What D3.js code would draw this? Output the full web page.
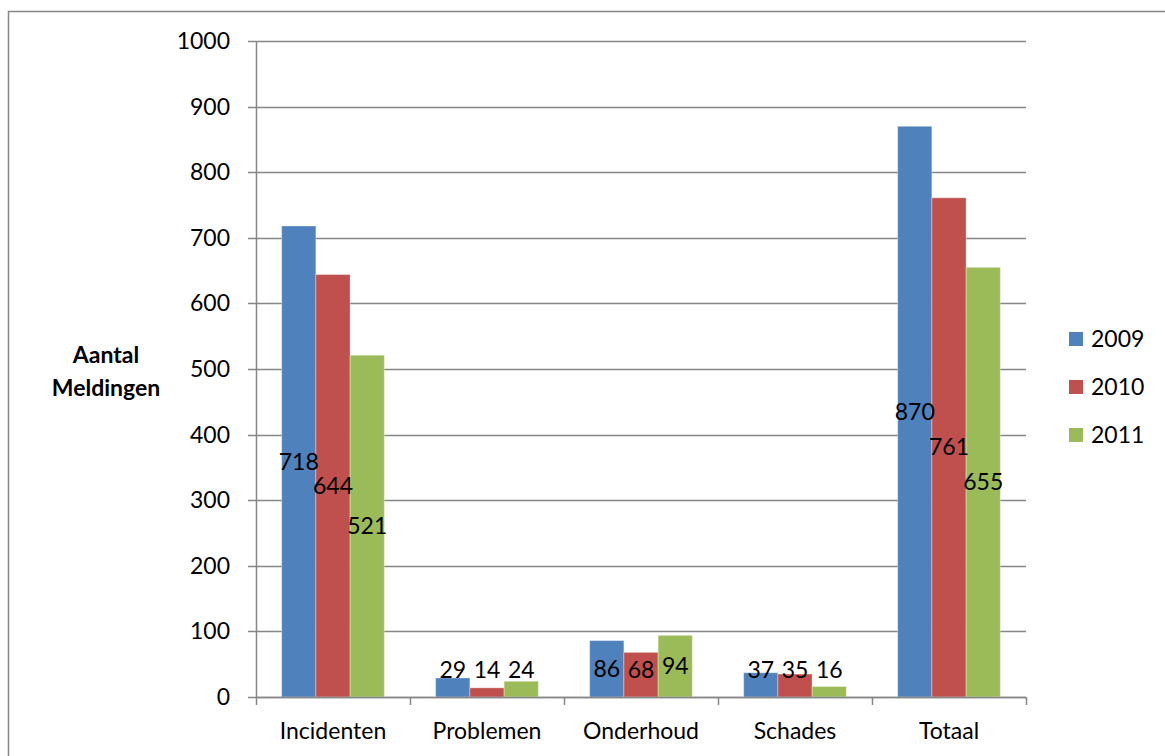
<!DOCTYPE html>
<html>
<head>
<meta charset="utf-8">
<script src="https://cdn.jsdelivr.net/npm/d3@7"></script>
<style>
	body { margin: 0; background: #fff; }
	text { font-family: Lato, "Open Sans", sans-serif; fill: #000; }
</style>
</head>
<body>
<div id="chart"></div>
<script>
var categories = ["Incidenten", "Problemen", "Onderhoud", "Schades", "Totaal"];
var years = ["2009", "2010", "2011"];
var values2009 = [718, 29, 86, 37, 870];
var values2010 = [644, 14, 68, 35, 761];
var values2011 = [521, 24, 94, 16, 655];
var yTicks = [0, 100, 200, 300, 400, 500, 600, 700, 800, 900, 1000];

var colors = ["#4f81bd", "#c0504d", "#9bbb59"];
var series = [values2009, values2010, values2011];

var W = 1165, H = 756, fs = 23;
var plotL = 256, plotR = 1026, plotT = 41, plotB = 697;

var svg = d3.select("#chart")
	.append("svg")
	.attr("width", W)
	.attr("height", H)
	.attr("display", "block");

//	Outer chart border
svg.append("rect")
	.attr("x", 8.5)
	.attr("y", 11.5)
	.attr("width", W + 20)
	.attr("height", H + 20)
	.attr("fill", "none")
	.attr("stroke", "#868686")
	.attr("stroke-width", 1.5);

var x = d3.scaleBand()
	.domain(categories)
	.range([plotL, plotR])
	.paddingInner(0)
	.paddingOuter(0);

var y = d3.scaleLinear()
	.domain([0, 1000])
	.range([plotB, plotT]);

//	Inner band for the three years, 75% of a bar width gap on each side
var xs = d3.scaleBand()
	.domain(years)
	.range([0, x.bandwidth()])
	.paddingInner(0)
	.paddingOuter(0.75);

//	Gridlines + left ticks
svg.append("g")
	.selectAll("line")
	.data(yTicks)
	.join("line")
	.attr("x1", plotL - 8)
	.attr("x2", plotR)
	.attr("y1", function(d) { return Math.round(y(d)) + 0.5; })
	.attr("y2", function(d) { return Math.round(y(d)) + 0.5; })
	.attr("stroke", "#868686")
	.attr("stroke-width", 1.5);

svg.append("g")
	.selectAll("text")
	.data(yTicks)
	.join("text")
	.attr("x", 230)
	.attr("y", function(d) { return y(d); })
	.attr("dy", "0.35em")
	.attr("text-anchor", "end")
	.attr("font-size", fs)
	.text(function(d) { return d; });

//	Bars
years.forEach(function(yr, i) {
	var g = svg.append("g");
	g.selectAll("rect")
		.data(series[i])
		.join("rect")
		.attr("x", function(d, j) { return x(categories[j]) + xs(yr); })
		.attr("y", function(d) { return y(d); })
		.attr("width", xs.bandwidth())
		.attr("height", function(d) { return y(0) - y(d); })
		.attr("fill", colors[i])
		.attr("stroke", "#fff")
		.attr("stroke-opacity", 0.35)
		.attr("stroke-width", 1);
});

//	Value labels (on top of all bars)
years.forEach(function(yr, i) {
	svg.append("g")
		.selectAll("text")
		.data(series[i])
		.join("text")
		.attr("x", function(d, j) { return x(categories[j]) + xs(yr) + xs.bandwidth() / 2; })
		.attr("y", function(d) { return Math.min(y(d / 2), y(0) - 27); })
		.attr("dy", "0.35em")
		.attr("text-anchor", "middle")
		.attr("font-size", fs)
		.text(function(d) { return d; });
});

//	Axes lines
svg.append("line")
	.attr("x1", plotL + 0.5)
	.attr("x2", plotL + 0.5)
	.attr("y1", plotT)
	.attr("y2", plotB)
	.attr("stroke", "#868686")
	.attr("stroke-width", 1.5);

svg.append("line")
	.attr("x1", plotL)
	.attr("x2", plotR)
	.attr("y1", plotB + 0.5)
	.attr("y2", plotB + 0.5)
	.attr("stroke", "#868686")
	.attr("stroke-width", 1.5);

//	Category ticks
var catTicks = categories.map(function(c) { return x(c); }).concat([plotR]);
svg.append("g")
	.selectAll("line")
	.data(catTicks)
	.join("line")
	.attr("x1", function(d) { return Math.round(d) + 0.5; })
	.attr("x2", function(d) { return Math.round(d) + 0.5; })
	.attr("y1", plotB)
	.attr("y2", plotB + 8)
	.attr("stroke", "#868686")
	.attr("stroke-width", 1.5);

svg.append("g")
	.selectAll("text")
	.data(categories)
	.join("text")
	.attr("x", function(d) { return x(d) + x.bandwidth() / 2; })
	.attr("y", 731)
	.attr("dy", "0.35em")
	.attr("text-anchor", "middle")
	.attr("font-size", fs)
	.text(function(d) { return d; });

//	Y title
var title = svg.append("text")
	.attr("text-anchor", "middle")
	.attr("font-size", fs)
	.attr("font-weight", "bold");
title.append("tspan").attr("x", 106).attr("y", 355).attr("dy", "0.35em").text("Aantal");
title.append("tspan").attr("x", 106).attr("y", 388).attr("dy", "0.35em").text("Meldingen");

//	Legend
var legend = svg.append("g")
	.selectAll("g")
	.data(years)
	.join("g")
	.attr("transform", function(d, i) { return "translate(1069," + (339 + i * 48) + ")"; });

legend.append("rect")
	.attr("x", 0)
	.attr("y", -7)
	.attr("width", 14)
	.attr("height", 14)
	.attr("fill", function(d, i) { return colors[i]; });

legend.append("text")
	.attr("x", 22)
	.attr("y", 0)
	.attr("dy", "0.35em")
	.attr("font-size", fs)
	.text(function(d) { return d; });
</script>
</body>
</html>
